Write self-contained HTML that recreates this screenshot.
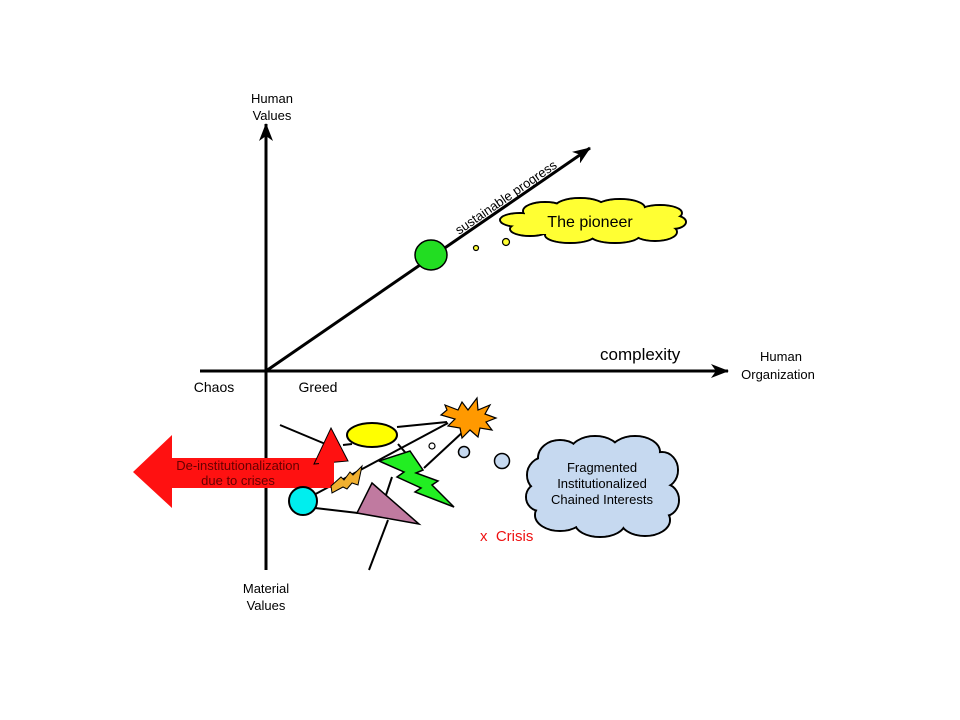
<!DOCTYPE html>
<html><head><meta charset="utf-8"><style>
html,body{margin:0;padding:0;background:#fff;}
svg{display:block;}
text{font-family:"Liberation Sans",Arial,sans-serif;}
</style></head><body>
<svg width="960" height="720" viewBox="0 0 960 720" xmlns="http://www.w3.org/2000/svg">
<defs>
<marker id="ah" markerWidth="18" markerHeight="14" refX="17" refY="7" orient="auto" markerUnits="userSpaceOnUse" viewBox="0 0 18 14">
<path d="M0,0 L18,7 L0,14 L5,7 Z" fill="#000"/>
</marker>
</defs>
<line x1="266" y1="570" x2="266" y2="124" stroke="#000" stroke-width="3" marker-end="url(#ah)" />
<line x1="200" y1="371" x2="728" y2="371" stroke="#000" stroke-width="3" marker-end="url(#ah)"/>
<line x1="266" y1="371" x2="590" y2="148" stroke="#000" stroke-width="3" marker-end="url(#ah)"/>

<g font-size="13" fill="#000" text-anchor="middle">
<text x="272" y="103">Human</text><text x="272" y="120">Values</text>
<text x="781" y="361">Human</text><text x="778" y="379">Organization</text>
<text x="266" y="593">Material</text><text x="266" y="610">Values</text>
<text x="214" y="392" font-size="14">Chaos</text>
<text x="318" y="392" font-size="14">Greed</text>
</g>
<text x="600" y="360" font-size="17">complexity</text>
<text x="0" y="0" font-size="13" transform="translate(459,235) rotate(-34.5)">sustainable progress</text>

<ellipse cx="431" cy="255" rx="16" ry="15" fill="#22dd22" stroke="#000" stroke-width="1.5"/>
<circle cx="476" cy="248" r="2.5" fill="#ffff33" stroke="#000" stroke-width="1.2"/>
<circle cx="506" cy="242" r="3.5" fill="#ffff33" stroke="#000" stroke-width="1.2"/>

<g stroke="#000" stroke-width="2" fill="#ffff33">
<ellipse cx="520" cy="220" rx="20" ry="7"/><ellipse cx="545" cy="211" rx="22" ry="9"/><ellipse cx="580" cy="207" rx="25" ry="9"/>
<ellipse cx="620" cy="208" rx="25" ry="9"/><ellipse cx="660" cy="213" rx="22" ry="8"/><ellipse cx="672" cy="222" rx="14" ry="7"/>
<ellipse cx="655" cy="232" rx="22" ry="9"/><ellipse cx="615" cy="235" rx="25" ry="8"/><ellipse cx="570" cy="235" rx="25" ry="8"/><ellipse cx="530" cy="229" rx="20" ry="7"/>
</g>
<g fill="#ffff33">
<ellipse cx="520" cy="220" rx="19" ry="6"/><ellipse cx="545" cy="211" rx="21" ry="8"/><ellipse cx="580" cy="207" rx="24" ry="8"/>
<ellipse cx="620" cy="208" rx="24" ry="8"/><ellipse cx="660" cy="213" rx="21" ry="7"/><ellipse cx="672" cy="222" rx="13" ry="6"/>
<ellipse cx="655" cy="232" rx="21" ry="8"/><ellipse cx="615" cy="235" rx="24" ry="7"/><ellipse cx="570" cy="235" rx="24" ry="7"/><ellipse cx="530" cy="229" rx="19" ry="6"/>
<rect x="525" y="210" width="140" height="24"/>
</g>
<text x="590" y="227" font-size="16" text-anchor="middle">The pioneer</text>

<g stroke="#000" stroke-width="2" fill="#c6d9f0">
<ellipse cx="545" cy="475" rx="18" ry="18"/><ellipse cx="560" cy="458" rx="22" ry="18"/><ellipse cx="595" cy="452" rx="25" ry="16"/>
<ellipse cx="635" cy="452" rx="25" ry="16"/><ellipse cx="662" cy="470" rx="16" ry="18"/><ellipse cx="665" cy="500" rx="14" ry="16"/>
<ellipse cx="645" cy="520" rx="25" ry="16"/><ellipse cx="600" cy="523" rx="25" ry="14"/><ellipse cx="560" cy="515" rx="25" ry="16"/><ellipse cx="540" cy="497" rx="14" ry="14"/>
</g>
<g fill="#c6d9f0">
<ellipse cx="545" cy="475" rx="17" ry="17"/><ellipse cx="560" cy="458" rx="21" ry="17"/><ellipse cx="595" cy="452" rx="24" ry="15"/>
<ellipse cx="635" cy="452" rx="24" ry="15"/><ellipse cx="662" cy="470" rx="15" ry="17"/><ellipse cx="665" cy="500" rx="13" ry="15"/>
<ellipse cx="645" cy="520" rx="24" ry="15"/><ellipse cx="600" cy="523" rx="24" ry="13"/><ellipse cx="560" cy="515" rx="24" ry="15"/><ellipse cx="540" cy="497" rx="13" ry="13"/>
<rect x="545" y="458" width="115" height="62"/>
</g>
<g font-size="13" text-anchor="middle">
<text x="602" y="472">Fragmented</text><text x="602" y="488">Institutionalized</text><text x="602" y="504">Chained Interests</text>
</g>
<text x="480" y="541" font-size="15" fill="#ee1111">x&#160;&#160;Crisis</text>

<g stroke="#000" stroke-width="2" fill="none">
<line x1="280" y1="425" x2="335" y2="448"/>
<line x1="343" y1="445" x2="352" y2="444"/>
<line x1="397" y1="427" x2="447" y2="422"/>
<line x1="448" y1="423" x2="310" y2="497"/>
<line x1="465" y1="430" x2="424" y2="468"/>
<line x1="398" y1="444" x2="410" y2="458"/>
<line x1="392" y1="477" x2="386" y2="495"/>
<line x1="315" y1="508" x2="358" y2="513"/>
<line x1="388" y1="520" x2="369" y2="570"/>
</g>

<path d="M133,472 L172,435 L172,458 L334,458 L334,488 L172,488 L172,508 Z" fill="#ff1111"/>
<path d="M331,428 L348,461 L314,464 Z" fill="#ff1111" stroke="#000" stroke-width="1"/>
<path d="M319,458 L334,458 L334,488 L319,488 Z" fill="#ff1111"/>
<g font-size="13" text-anchor="middle" fill="#660000"><text x="238" y="470">De-institutionalization</text><text x="238" y="485">due to crises</text></g>

<ellipse cx="372" cy="435" rx="25" ry="12" fill="#ffff00" stroke="#000" stroke-width="2"/>
<path d="M447,410 L445,405 L458,410 L462,402 L468,410 L477,398 L478,410 L490,405 L485,414 L496,418 L486,422 L492,430 L480,428 L478,437 L470,430 L462,438 L460,428 L448,426 L455,419 L441,415 Z" fill="#ff9900" stroke="#000" stroke-width="1.2"/>
<path d="M379,461 L410,451 L423,470 L416,473 L438,481 L432,485 L454,507 L415,492 L421,488 L397,477 L404,472 Z" fill="#22ee22" stroke="#000" stroke-width="1.5"/>
<path d="M331,486 L341,477 L344,480 L350,472 L353,475 L362,466 L358,485 L352,483 L347,489 L343,487 L332,493 Z" fill="#f0b030" stroke="#000" stroke-width="1"/>
<circle cx="303" cy="501" r="14" fill="#00eeee" stroke="#000" stroke-width="2"/>
<path d="M372,483 L419,524 L357,513 Z" fill="#c07aa0" stroke="#000" stroke-width="1.5"/>

<circle cx="432" cy="446" r="3" fill="#fff" stroke="#000" stroke-width="1.2"/>
<circle cx="464" cy="452" r="5.5" fill="#c6d9f0" stroke="#000" stroke-width="1.5"/>
<circle cx="502" cy="461" r="7.5" fill="#c6d9f0" stroke="#000" stroke-width="1.5"/>
</svg>
</body></html>
